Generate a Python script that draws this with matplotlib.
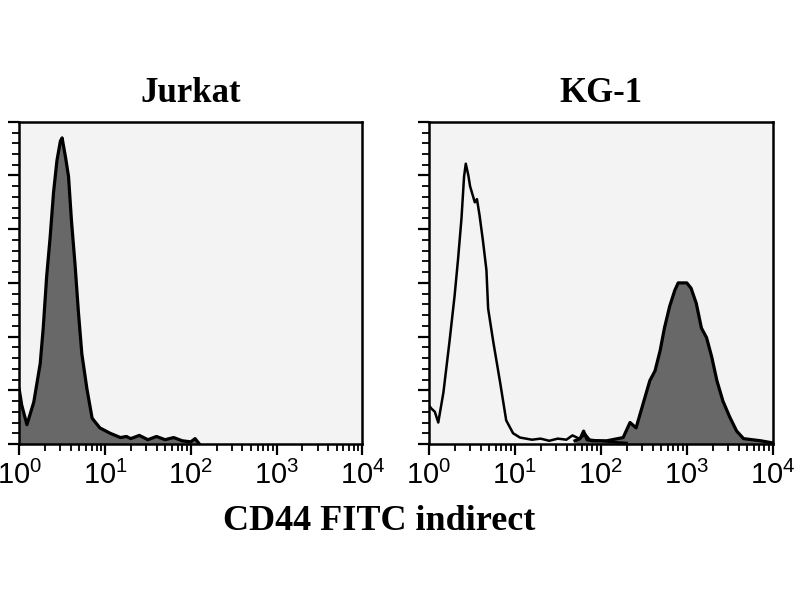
import matplotlib.pyplot as plt
import numpy as np

plt.rcParams['mathtext.fontset'] = 'custom'
plt.rcParams['mathtext.rm'] = 'Liberation Sans'
plt.rcParams['mathtext.it'] = 'Liberation Sans'

# log10 fluorescence positions and event counts
jurkat_log = [0.00, 0.03, 0.07, 0.09, 0.17, 0.245, 0.28, 0.32, 0.36, 0.40, 0.44, 0.48, 0.50,
              0.52, 0.54, 0.575, 0.61, 0.65, 0.69, 0.73, 0.79, 0.85, 0.94, 1.06, 1.18, 1.25,
              1.30, 1.40, 1.50, 1.60, 1.70, 1.80, 1.90, 2.00, 2.05, 2.10]
jurkat_cnt = [51, 36, 24, 18, 39, 75, 108, 156, 192, 234, 264, 282, 285,
              276, 267, 249, 207, 168, 123, 84, 51, 24, 15, 10, 6, 7,
              5, 8, 4, 7, 4, 6, 3, 2, 5, 0]

kg1_ctrl_log = [0.00, 0.03, 0.07, 0.11, 0.17, 0.24, 0.30, 0.34, 0.38, 0.41, 0.43, 0.46, 0.48,
                0.535, 0.56, 0.59, 0.63, 0.67, 0.69, 0.75, 0.83, 0.90, 0.98, 1.06, 1.20, 1.30,
                1.40, 1.50, 1.60, 1.67, 1.75, 1.82, 1.87, 2.00, 2.10, 2.30]
kg1_ctrl_cnt = [36, 33, 30, 20, 48, 95, 138, 172, 210, 249, 261, 250, 240,
                225, 228, 213, 189, 162, 126, 95, 57, 22, 10, 6, 4, 5,
                3, 5, 4, 8, 5, 9, 4, 3, 2, 1]

kg1_cd44_log = [1.70, 1.76, 1.80, 1.84, 1.90, 2.07, 2.26, 2.34, 2.41, 2.49, 2.57, 2.63, 2.69,
                2.74, 2.80, 2.86, 2.90, 3.00, 3.05, 3.11, 3.17, 3.23, 3.29, 3.35, 3.42, 3.50,
                3.58, 3.66, 3.86, 4.00]
kg1_cd44_cnt = [3, 5, 12, 4, 3, 3, 6, 20, 15, 37, 59, 68, 87,
                108, 128, 143, 150, 150, 145, 131, 108, 99, 81, 59, 40, 25,
                12, 5, 3, 1]

titles = ['Jurkat', 'KG-1']
xlabel = 'CD44 FITC indirect'

fill_col = '#686868'
bg_col = '#f3f3f3'


def style_axis(ax):
    ax.set_facecolor(bg_col)
    ax.set_xscale('log')
    ax.set_xlim(1, 1e4)
    ax.set_ylim(0, 300)
    for s in ax.spines.values():
        s.set_linewidth(1.8)
    ax.set_xticks([1, 10, 100, 1000, 10000])
    ax.set_xticklabels(['$10^{%d}$' % i for i in range(5)], fontsize=21)
    ax.set_yticks(np.arange(0, 301, 50))
    ax.set_yticks(np.arange(0, 301, 10), minor=True)
    ax.set_yticklabels([])
    ax.tick_params(axis='both', which='major', length=8, width=1.6, direction='out', pad=4)
    ax.tick_params(axis='both', which='minor', length=5, width=1.3, direction='out')
    ax.tick_params(axis='y', which='both', labelleft=False)


fig = plt.figure(figsize=(8, 6), dpi=100)
ax1 = fig.add_axes([0.024, 0.26, 0.429, 0.537])
ax2 = fig.add_axes([0.536, 0.26, 0.43, 0.537])

x = 10 ** np.array(jurkat_log)
ax1.fill_between(x, jurkat_cnt, color=fill_col, lw=0)
ax1.plot(x, jurkat_cnt, color='black', lw=2.3)

x = 10 ** np.array(kg1_cd44_log)
ax2.fill_between(x, kg1_cd44_cnt, color=fill_col, lw=0)
ax2.plot(x, kg1_cd44_cnt, color='black', lw=2.3)
x = 10 ** np.array(kg1_ctrl_log)
ax2.plot(x, kg1_ctrl_cnt, color='black', lw=1.8)

for ax, t in zip([ax1, ax2], titles):
    style_axis(ax)
    ax.set_title(t, fontsize=25, fontweight='bold', family='Liberation Serif', pad=14)

fig.text(0.474, 0.13, xlabel, ha='center', va='center', fontsize=26,
         fontweight='bold', family='Liberation Serif')

plt.savefig('out.png', dpi=100)
